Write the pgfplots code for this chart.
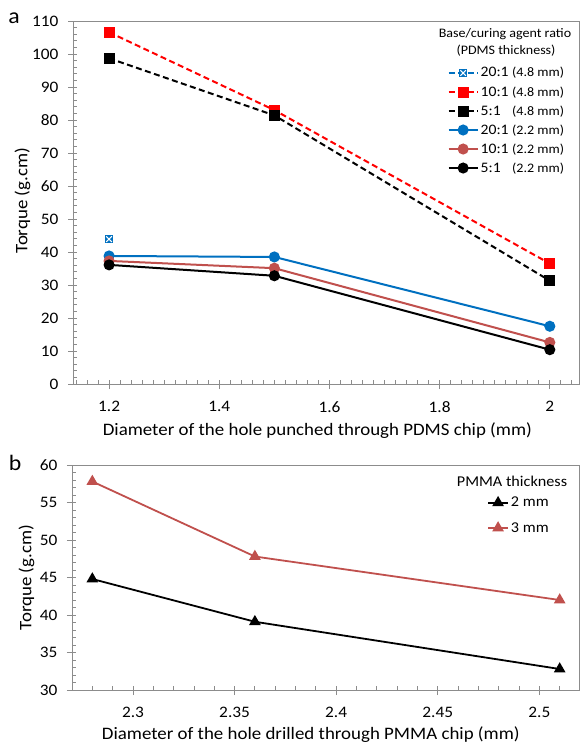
\documentclass[border=0pt]{standalone}
\usepackage{fontspec}
\setmainfont{Carlito}[FakeStretch=1.08]
\usepackage{pgfplots}
\pgfplotsset{compat=1.18}

\definecolor{xlblue}{RGB}{0,112,192}
\definecolor{xlred}{RGB}{255,0,0}
\definecolor{xlbrown}{RGB}{192,80,77}
\definecolor{axgray}{RGB}{140,140,140}

% blue square with a white cross, as in the Excel marker
\pgfdeclareplotmark{sqx}{%
  \pgfsetdash{}{0pt}%
  \pgfpathrectangle{\pgfqpoint{-\pgfplotmarksize}{-\pgfplotmarksize}}{\pgfqpoint{2\pgfplotmarksize}{2\pgfplotmarksize}}%
  \pgfsetfillcolor{xlblue}\pgfusepathqfill
  \pgfsetstrokecolor{white}\pgfsetlinewidth{1.1pt}%
  \pgfpathmoveto{\pgfqpoint{-.65\pgfplotmarksize}{-.65\pgfplotmarksize}}%
  \pgfpathlineto{\pgfqpoint{.65\pgfplotmarksize}{.65\pgfplotmarksize}}%
  \pgfpathmoveto{\pgfqpoint{-.65\pgfplotmarksize}{.65\pgfplotmarksize}}%
  \pgfpathlineto{\pgfqpoint{.65\pgfplotmarksize}{-.65\pgfplotmarksize}}%
  \pgfusepathqstroke
}

\pgfplotsset{
  excel/.style={
    scale only axis,
    axis line style={axgray, line width=0.9pt},
    tick style={axgray, line width=0.8pt},
    tick align=outside,
    major tick length=5pt,
    minor tick length=4pt,
    minor x tick style={yshift=4pt},
    minor y tick style={xshift=4pt},
    xtick pos=bottom, ytick pos=left,
    tick label style={font=\fontsize{16}{19}\selectfont, black},
    /pgf/number format/assume math mode=true,
    label style={font=\fontsize{17.5}{21}\selectfont},
    legend style={draw=none, fill=none, inner sep=0pt},
    legend cell align=left,
  },
  leglen/.style={every axis plot/.append style={legend image code/.code={%
    \draw[mark repeat=2,mark phase=2] plot coordinates {(0pt,0pt) (#1/2,0pt) (#1,0pt)};}}},
}
\newcommand\sm[1]{{\fontsize{13}{15}\selectfont #1}}

\begin{document}
\begin{tikzpicture}
\path[use as bounding box] (0pt,0pt) rectangle (579pt,-744pt);

% ---------------- panel a
\begin{axis}[excel, leglen=29pt,
  at={(73pt,-384pt)}, anchor=south west,
  width=506pt, height=363pt,
  xmin=1.1345, xmax=2.053, ymin=0, ymax=110,
  xtick={1.2,1.4,1.6,1.8,2},
  minor xtick={1.14,1.16,...,2.05},
  ytick={0,10,...,110},
  minor ytick={0,2,...,110},
  xticklabel style={yshift=-9pt},
  yticklabel style={xshift=-6pt},
  xlabel={Diameter of the hole punched through PDMS chip (mm)},
  ylabel={Torque (g.cm)},
  xlabel style={at={(axis description cs:0.483,-0.127)}, anchor=center},
  ylabel style={at={(axis description cs:-0.1,0.505)}, anchor=center},
  legend style={at={(axis description cs:0.74,0.878)}, anchor=north west,
    font=\fontsize{14.5}{17}\selectfont, row sep=4pt},
]
\addplot[xlblue, line width=2pt, dash pattern=on 6pt off 3.5pt, mark=sqx, mark size=4.3pt]
  coordinates {(1.2,43.9)};
\addlegendentry{20:1 \sm{(4.8 mm)}}
\addplot[xlred, line width=2pt, dash pattern=on 6pt off 3.5pt, mark=square*, mark size=4.5pt, mark options={solid}]
  coordinates {(1.2,106.6) (1.5,83.0) (2,36.5)};
\addlegendentry{10:1 \sm{(4.8 mm)}}
\addplot[black, line width=2pt, dash pattern=on 6pt off 3.5pt, mark=square*, mark size=4.5pt, mark options={solid}]
  coordinates {(1.2,98.7) (1.5,81.4) (2,31.3)};
\addlegendentry{5:1\hphantom{0} \sm{(4.8 mm)}}
\addplot[xlblue, line width=2pt, mark=*, mark size=4.5pt]
  coordinates {(1.2,38.8) (1.5,38.5) (2,17.5)};
\addlegendentry{20:1 \sm{(2.2 mm)}}
\addplot[xlbrown, line width=2pt, mark=*, mark size=4.5pt]
  coordinates {(1.2,37.3) (1.5,35.1) (2,12.6)};
\addlegendentry{10:1 \sm{(2.2 mm)}}
\addplot[black, line width=2pt, mark=*, mark size=4.5pt]
  coordinates {(1.2,36.1) (1.5,32.8) (2,10.4)};
\addlegendentry{5:1\hphantom{0} \sm{(2.2 mm)}}
\end{axis}

\node[font=\fontsize{13}{15}\selectfont, anchor=center] at (505pt,-34pt) {Base/curing agent ratio};
\node[font=\fontsize{13}{15}\selectfont, anchor=center] at (506pt,-51pt) {(PDMS thickness)};
\node[font=\fontsize{22}{26}\selectfont, anchor=center] at (14pt,-18pt) {a};

% ---------------- panel b
\begin{axis}[excel, leglen=20pt,
  at={(72pt,-690pt)}, anchor=south west,
  width=507pt, height=225pt,
  xmin=2.27, xmax=2.5195, ymin=30, ymax=60,
  xtick={2.3,2.35,2.4,2.45,2.5},
  xticklabels={2.3,2.35,2.4,2.45,2.5},
  minor xtick={2.27,2.28,...,2.52},
  ytick={30,35,...,60},
  minor ytick={30,31,...,60},
  xticklabel style={yshift=-9pt},
  yticklabel style={xshift=-6pt},
  xlabel={Diameter of the hole drilled through PMMA chip (mm)},
  ylabel={Torque (g.cm)},
  xlabel style={at={(axis description cs:0.471,-0.2)}, anchor=center},
  ylabel style={at={(axis description cs:-0.09,0.5)}, anchor=center},
  legend style={at={(axis description cs:0.8185,0.867)}, anchor=north west,
    font=\fontsize{15}{18}\selectfont, row sep=10pt},
]
\addplot[black, line width=1.8pt, mark=triangle*, mark size=5pt]
  coordinates {(2.28,44.8) (2.36,39.1) (2.51,32.8)};
\addlegendentry{2 mm}
\addplot[xlbrown, line width=1.8pt, mark=triangle*, mark size=5pt]
  coordinates {(2.28,57.8) (2.36,47.8) (2.51,42.0)};
\addlegendentry{3 mm}
\end{axis}

\node[font=\fontsize{15}{18}\selectfont, anchor=center] at (512pt,-481pt) {PMMA thickness};
\node[font=\fontsize{22}{26}\selectfont, anchor=center] at (15pt,-463pt) {b};
\end{tikzpicture}
\end{document}
